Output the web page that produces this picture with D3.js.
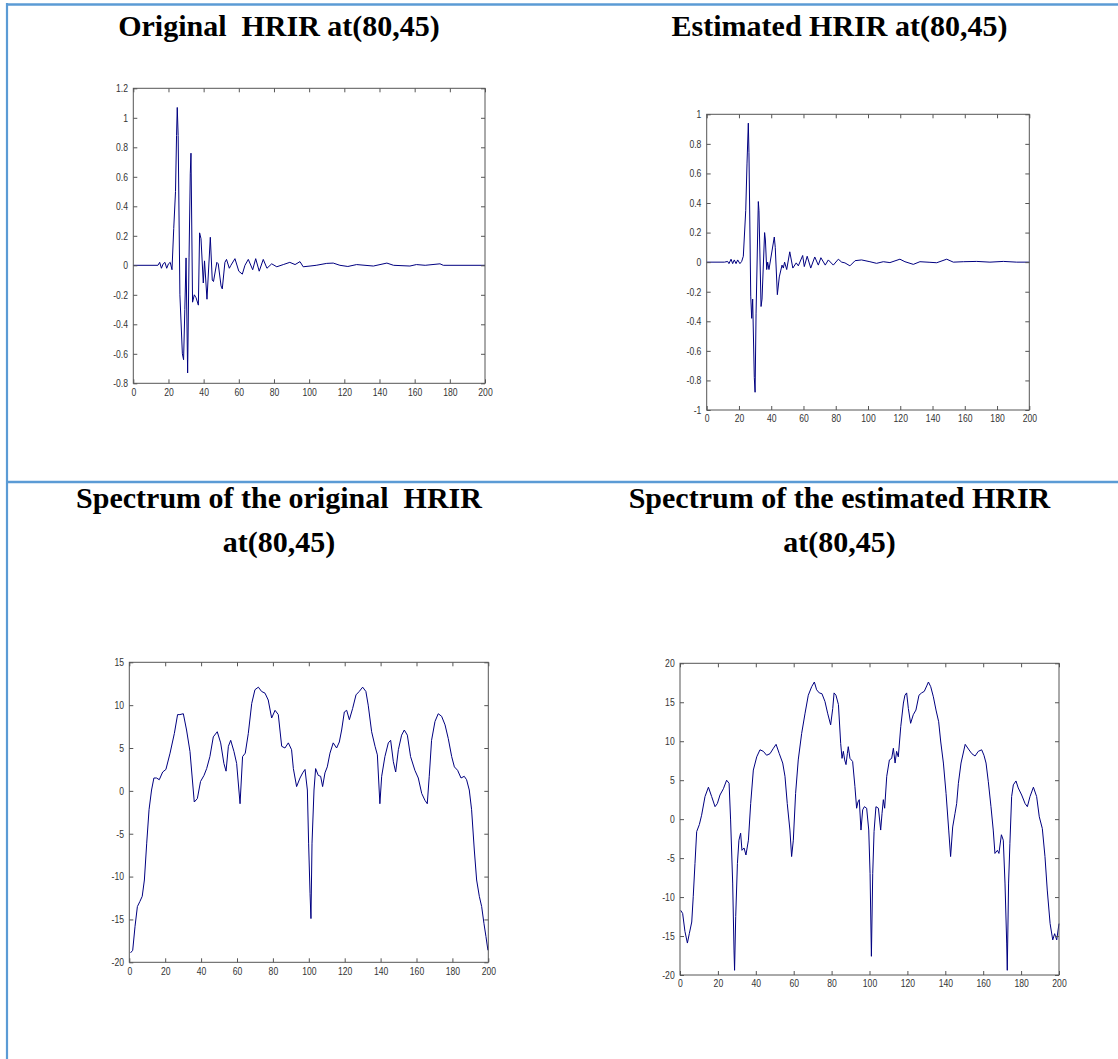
<!DOCTYPE html>
<meta charset="utf-8">
<style>
body { margin: 0; background: #fff; }

.title {
  font-family: "Liberation Serif", "Times New Roman", serif;
  font-weight: bold;
  font-size: 30px;
  text-anchor: middle;
  white-space: pre;
  fill: #000;
}

.tick text {
  font-family: "Liberation Sans", Arial, sans-serif;
  font-size: 10.5px;
  fill: #333;
}

.tick line { stroke: #555; }

.frame { fill: none; stroke: #555; }

.trace { fill: none; stroke: #000080; stroke-width: 1; }

.border { stroke: #5b9bd5; }
</style>

<svg width="1118" height="1059"></svg>

<script src="https://d3js.org/d3.v7.min.js"></script>
<script>
//four matlab style plots laid out in a word table: two HRIRs on top, their spectra below

//tick values
var xTicks = [0, 20, 40, 60, 80, 100, 120, 140, 160, 180, 200];
var hrirOrigYTicks = [-0.8, -0.6, -0.4, -0.2, 0, 0.2, 0.4, 0.6, 0.8, 1, 1.2];
var hrirEstYTicks = [-1, -0.8, -0.6, -0.4, -0.2, 0, 0.2, 0.4, 0.6, 0.8, 1];
var specOrigYTicks = [-20, -15, -10, -5, 0, 5, 10, 15];
var specEstYTicks = [-20, -15, -10, -5, 0, 5, 10, 15, 20];

//titles
var titleOrig = ["Original  HRIR at(80,45)"];
var titleEst = ["Estimated HRIR at(80,45)"];
var titleSpecOrig = ["Spectrum of the original  HRIR", "at(80,45)"];
var titleSpecEst = ["Spectrum of the estimated HRIR", "at(80,45)"];

//[sample, amplitude]
var hrirOrig = [[0,0],[14,0],[15,0.02],[16,-0.02],[17,0.01],[18,0.02],[19,-0.02],[20,0.01],[21,0.02],[22,-0.03],
  [23,0.25],[24,0.5],[24.6,0.88],[25,1.07],[25.5,0.88],[26.5,-0.2],[27.9,-0.6],[28.6,-0.64],[29.3,-0.3],[30,0.05],
  [30.9,-0.73],[31.7,0.05],[32.4,0.62],[32.8,0.76],[33.7,-0.25],[34.7,-0.2],[35.7,-0.22],[37,-0.27],[37.7,0.22],[38.5,0.18],
  [39.8,-0.12],[40.5,0.03],[41.9,-0.23],[43.8,0.19],[44.9,-0.1],[45.6,-0.11],[47.5,0.02],[48.3,0.01],[49.9,-0.14],[50.6,-0.16],
  [52.1,0.02],[53,0.04],[54.6,-0.02],[55.5,0],[57.8,0.045],[60,-0.04],[62,-0.06],[63.5,0],[65.4,0.04],[67.9,-0.03],
  [69.6,0.045],[71.6,-0.04],[73.9,0.04],[76,-0.02],[78.7,0.01],[81.6,-0.01],[85.3,0.005],[89,0.02],[92,0.005],[94.8,0.025],
  [96.6,-0.01],[100.5,-0.005],[104,0],[110,0.013],[113.7,0.015],[117.5,0],[122,-0.008],[127,0.005],[136.5,-0.005],[144.2,0.015],
  [148,0],[157.3,-0.005],[161,0.005],[166,0],[174.4,0.01],[176.3,0],[200,0]];

var hrirEst = [[0,0],[11,0],[13,0.005],[13.8,-0.01],[15.1,0.02],[16.1,-0.01],[17.1,0.015],[18.2,-0.01],[19.2,0.015],[20.6,-0.01],
  [21.7,0.005],[22.7,0.04],[24.2,0.35],[25,0.67],[25.8,0.94],[26.2,0.74],[27.3,-0.23],[27.9,-0.38],[28.5,-0.25],[29.5,-0.78],
  [30,-0.88],[30.6,-0.35],[32,0.41],[32.4,0.35],[33.7,-0.3],[34.3,-0.25],[35.9,0.2],[36.4,0.15],[37.2,-0.05],[37.8,0],
  [38.6,-0.05],[41.9,0.17],[42.5,0.1],[43.8,-0.22],[45,-0.1],[46.7,-0.02],[47.5,-0.04],[48.3,0],[49.6,-0.05],[51.5,0.07],
  [53.4,-0.04],[55.5,-0.005],[56.8,-0.025],[59.5,0.045],[60.5,-0.03],[62.3,0.04],[64.5,-0.04],[67,0.035],[69.2,-0.02],[70.8,0.03],
  [73.5,-0.02],[75.4,0.015],[78.5,-0.02],[81.6,0.02],[83.7,0],[85.7,-0.005],[88.8,-0.025],[92,0.01],[96,0.015],[101.2,0.003],
  [105.3,-0.008],[109.5,0.003],[113.6,-0.003],[119.8,0.02],[122.9,0.003],[128.1,-0.015],[132.2,0.003],[138.4,-0.001],[142.6,-0.004],[148.8,0.02],
  [152.9,0],[159.1,0.003],[167.4,0.005],[175.6,0],[183.9,0.005],[192.2,0],[200,0]];

//[bin, dB]
var specOrig = [[0.7,-18.9],[1.9,-18.6],[3.2,-15.8],[4.5,-13.5],[5.9,-12.9],[7.2,-12.3],[8.4,-10.4],[9.7,-6.1],[11,-2.2],[12.4,0.1],
  [13.7,1.5],[15.2,1.5],[16.7,1.3],[18.6,2.2],[20.4,2.5],[22.7,4.4],[25.1,6.7],[26.9,8.9],[28.2,8.9],[30.1,9],
  [31.9,7.1],[33.8,4.6],[36.2,-1.3],[37.9,-0.9],[39.7,1.1],[41.6,1.8],[43.1,2.6],[44.9,4],[46.8,6.3],[49,6.9],
  [50.9,5.6],[52.7,3.2],[53.9,2.3],[55.2,5.2],[56.5,5.9],[58.3,4.6],[59.8,3.2],[61.7,-1.5],[63.1,4],[64.6,4.4],
  [66.3,6.7],[68.2,10.2],[70,11.8],[71.9,12.1],[73.7,11.6],[75.6,11.4],[77.4,10.6],[79.3,8.5],[81.2,9.4],[83,8.9],
  [84.9,5.2],[86.7,5],[88.6,5.6],[90.4,4.8],[91.4,2.6],[93.2,0.5],[95.1,1.5],[96.6,2.1],[97.9,2.5],[99.2,0.1],
  [99.9,-6.1],[100.7,-12],[101.2,-14.9],[101.8,-6.1],[102.9,0.1],[103.8,2.6],[105.3,1.8],[106.6,1.7],[107.7,0.5],[109,2.1],
  [110.3,2.8],[111.8,4.4],[113.6,5.6],[115.5,5],[117,5.7],[118.3,7.1],[119.8,9.2],[121.1,9.4],[122.6,8.3],[124.4,9.6],
  [126.3,11.2],[128.1,11.6],[130,12.1],[131.8,11.6],[133.1,10],[135,6.9],[136.9,5.2],[138.2,4.2],[139.6,-1.5],[140.6,1.7],
  [142.4,4],[144.3,5.6],[145.6,5.9],[147.1,3.4],[148.4,2.2],[149.9,4.8],[151.7,6.5],[153.2,7.1],[154.9,6.5],[156.7,4],
  [159.1,2.4],[161,1.5],[162.9,-0.3],[164.7,-1.1],[166,-1.5],[167.1,1.7],[168.4,5.9],[170.3,8.1],[172.1,9],[174,8.7],
  [175.9,7.7],[177.7,6.1],[179.6,4],[181.1,2.8],[182.9,2.4],[184.8,1.5],[186.6,1.7],[187.9,1.3],[189.4,0.1],[190.7,-2.2],
  [192.2,-6.9],[193.5,-10.4],[195,-12.3],[196.3,-13.5],[197.6,-15.5],[198.7,-17],[199.8,-18.6]];

var specEst = [[0.35,-11.7],[1.4,-12.1],[2.6,-14.4],[3.9,-15.9],[4.9,-14.7],[6.2,-13.2],[7,-9.9],[7.9,-5.7],[8.8,-1.6],[10.2,-0.7],
  [11.4,0.5],[13.2,2.9],[15,4.1],[16.7,2.9],[18.5,1.6],[19.7,2],[21.1,3.1],[22.9,3.9],[24.6,5],[25.9,4.6],
  [26.7,-0.1],[27.8,-8.2],[28.5,-16.8],[28.8,-19.4],[29.4,-12.5],[30.3,-5.7],[31.1,-2.7],[32,-1.8],[32.7,-4],[33.8,-3.7],
  [34.8,-4.6],[36.1,-2.7],[37.3,2],[38.7,6.3],[40.5,8],[42.2,8.9],[44,8.7],[45.7,8.2],[47.5,8.4],[49.3,9.1],
  [50.7,9.6],[52.4,8.4],[54.2,7.2],[55.4,5.5],[56.6,2],[58,-1.4],[58.9,-4.8],[59.8,-2.7],[61,3.3],[62.4,7.6],
  [64.2,11],[66,13.6],[67.7,15.9],[69.5,17],[70.9,17.6],[72.1,16.6],[73.5,16.2],[74.9,16.1],[76.5,15.1],[77.9,13.6],
  [79.5,12.1],[80.6,14.2],[81.3,16.2],[82.3,15.9],[83.6,14.7],[84.8,9.7],[85.5,7.8],[86.2,8.7],[86.9,7.6],[87.6,7],
  [88.3,8.4],[88.8,9.3],[89.7,7.8],[91.1,7.4],[92.3,4.2],[93.2,1.4],[93.9,2.2],[94.6,2.5],[95.5,-1.4],[96.4,1.2],
  [97.3,1.6],[98.5,1.4],[99.6,-1.4],[100.3,-7],[101,-17.6],[101.7,-7],[102.4,-1.6],[103.4,1.6],[104.7,1.4],[105.9,-1.4],
  [106.6,0.7],[107.3,2.5],[108,1.4],[109.1,5.5],[110.5,7.6],[111.7,7.8],[112.6,9.1],[113.5,7.2],[114.3,8.7],[115.2,8],
  [116.5,11.9],[117.9,14.9],[118.7,15.9],[119.6,16.2],[120.5,14.2],[121.7,12.3],[123.1,13.4],[124.5,14],[126.1,15.9],[127.5,16.2],
  [128.9,16.4],[130.2,17.1],[131.1,17.6],[132.3,17],[133.7,15.7],[135.1,14],[136.5,12.5],[137.6,9.9],[139,7.2],[140.4,3.3],
  [141.8,-1.4],[142.8,-4.8],[143.9,-1],[145.1,0.7],[146,2],[146.9,4.6],[148.3,7.2],[150.5,9.6],[152.2,9],[154,8.4],
  [155.7,8.1],[157.4,8.7],[159.2,8.9],[160.4,8.2],[161.5,7.2],[162.7,4.8],[164.1,1.6],[165.3,-1.4],[166.2,-4.4],[167.5,-4],
  [168.3,-4.4],[169.6,-2],[170.6,-2.7],[171.5,-8.2],[172.4,-15.9],[172.7,-19.4],[173.4,-8.2],[174.1,-3.1],[175,2.9],[175.9,4.4],
  [177.3,4.9],[178.5,4],[180.3,3.1],[182.1,2],[183.3,1.6],[184.7,2.9],[186.5,4.1],[188.2,2.9],[189.6,0.3],[191.2,-1.2],
  [192.6,-4.8],[193.8,-9.1],[195.3,-13.4],[196.7,-15.5],[197.7,-14.7],[198.8,-15.5],[200,-13.4]];

var svg = d3.select("svg"),
    width = +svg.attr("width"),
    height = +svg.attr("height");

var fmt = function(d) { return String(d); };

//table lines
svg.append("line").attr("class", "border").attr("x1", 6).attr("x2", width).attr("y1", 4.5).attr("y2", 4.5).attr("stroke-width", 2.5);
svg.append("line").attr("class", "border").attr("x1", 7).attr("x2", 7).attr("y1", 3).attr("y2", height).attr("stroke-width", 2.2);
svg.append("line").attr("class", "border").attr("x1", 6).attr("x2", width).attr("y1", 482).attr("y2", 482).attr("stroke-width", 2.3);

//titles, one text per line
function drawTitle(lines, cx, y0, lineGap) {
  svg.append("g").selectAll("text")
      .data(lines)
    .enter().append("text")
      .attr("class", "title")
      .attr("x", cx)
      .attr("y", function(d, i) { return y0 + i * lineGap; })
      .text(function(d) { return d; });
}

drawTitle(titleOrig, 279, 36, 0);
drawTitle(titleEst, 839.5, 36, 0);
drawTitle(titleSpecOrig, 279, 508, 44);
drawTitle(titleSpecEst, 839.5, 508, 44);

//matlab tick labels are narrow, squeeze them around their anchor
function narrow(a) {
  a.select(".domain").remove();
  a.selectAll(".tick text").attr("transform", "scale(0.82,1)");
}

//one matlab box plot with ticks pointing inwards on all sides
function drawPanel(p) {
  var x = d3.scaleLinear().domain([0, 200]).range([p.left, p.right]);
  var y = d3.scaleLinear().domain([p.yTicks[0], p.yTicks[p.yTicks.length - 1]]).range([p.bottom, p.top]);

  var g = svg.append("g");

  g.append("path")
      .datum(p.data)
      .attr("class", "trace")
      .attr("d", d3.line().x(function(d) { return x(d[0]); }).y(function(d) { return y(d[1]); }));

  g.append("g")
      .attr("transform", "translate(0," + p.bottom + ")")
      .call(d3.axisBottom(x).tickValues(xTicks).tickSize(-4).tickSizeOuter(0).tickPadding(5).tickFormat(fmt))
      .call(narrow);

  g.append("g")
      .attr("transform", "translate(0," + p.top + ")")
      .call(d3.axisTop(x).tickValues(xTicks).tickSize(-4).tickSizeOuter(0).tickFormat(""))
      .call(narrow);

  g.append("g")
      .attr("transform", "translate(" + p.left + ",0)")
      .call(d3.axisLeft(y).tickValues(p.yTicks).tickSize(-4).tickSizeOuter(0).tickPadding(6.5).tickFormat(fmt))
      .call(narrow);

  g.append("g")
      .attr("transform", "translate(" + p.right + ",0)")
      .call(d3.axisRight(y).tickValues(p.yTicks).tickSize(-4).tickSizeOuter(0).tickFormat(""))
      .call(narrow);

  g.append("rect")
      .attr("class", "frame")
      .attr("x", p.left)
      .attr("y", p.top)
      .attr("width", p.right - p.left)
      .attr("height", p.bottom - p.top);
}

drawPanel({ left: 133.3, right: 485, top: 88.3, bottom: 383.3, yTicks: hrirOrigYTicks, data: hrirOrig });
drawPanel({ left: 706.7, right: 1029.3, top: 114.3, bottom: 410, yTicks: hrirEstYTicks, data: hrirEst });
drawPanel({ left: 129.3, right: 488.3, top: 662.3, bottom: 962.3, yTicks: specOrigYTicks, data: specOrig });
drawPanel({ left: 680, right: 1059, top: 663.3, bottom: 975, yTicks: specEstYTicks, data: specEst });
</script>
